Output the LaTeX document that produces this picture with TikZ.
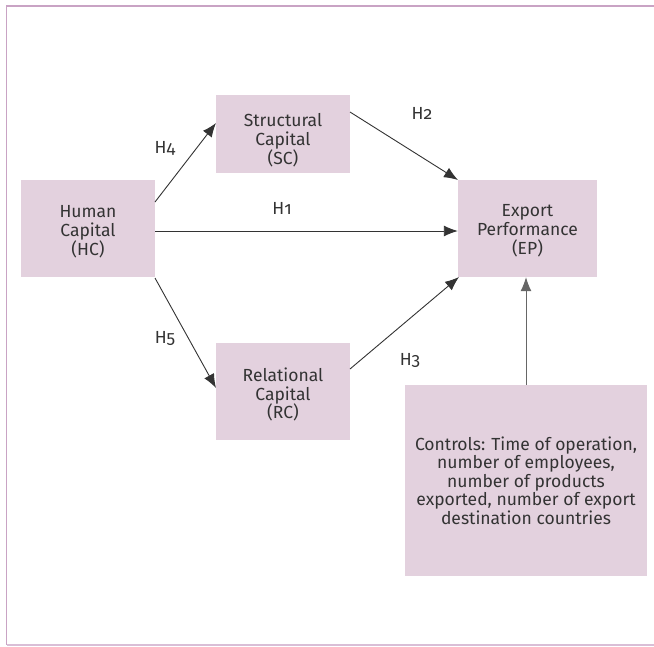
\documentclass[tikz,border=0pt]{standalone}
\usepackage{fontspec}
\setmainfont{Fira Sans}[Numbers=OldStyle]
\usetikzlibrary{arrows.meta}
\definecolor{boxfill}{HTML}{E3D1DE}
\definecolor{framec}{HTML}{C9A3C4}
\definecolor{txt}{HTML}{333333}
\tikzset{
  cbox/.style={fill=boxfill, draw=none, inner sep=0pt},
  boxtxt/.style={align=center, text=txt, inner sep=0pt,
    font=\fontsize{17.5}{18.8}\selectfont},
  conn/.style={draw=txt, line width=0.9pt, -{Latex[length=14pt,width=11pt]}},
  lbl/.style={text=txt, font=\fontsize{17.5}{18.5}\selectfont, inner sep=0pt}
}
\begin{document}
\begin{tikzpicture}[x=1pt,y=-1pt]
\useasboundingbox (0,0) rectangle (654,646);
% frame
\draw[framec, line width=1.5pt] (654,6) -- (6.5,6) -- (6.5,645);
\draw[framec!70, line width=1.2pt] (6.5,645) -- (654,645);
% boxes
\node[cbox, minimum width=134pt, minimum height=97pt,
  label={[boxtxt,yshift=-3pt]center:{Human\\Capital\\(HC)}}] (hc) at (88,228.5) {};
\node[cbox, minimum width=134pt, minimum height=78pt,
  label={[boxtxt,yshift=-6pt]center:{Structural\\Capital\\(SC)}}] (sc) at (283,134) {};
\node[cbox, minimum width=134pt, minimum height=97pt,
  label={[boxtxt,yshift=-3pt]center:{Relational\\Capital\\(RC)}}] (rc) at (283,391.5) {};
\node[cbox, minimum width=139pt, minimum height=97pt,
  label={[boxtxt,yshift=-2pt]center:{Export\\Performance\\(EP)}}] (ep) at (527.5,228.5) {};
\node[cbox, minimum width=242pt, minimum height=191pt,
  label={[boxtxt,font=\fontsize{17.5}{18.5}\selectfont]center:{Controls: Time of operation,\\number of employees,\\number of products\\exported, number of export\\destination countries}}] (ctrl) at (526,480.5) {};
% connectors
\coordinate (hcA) at (155,202);
\coordinate (hcB) at (155,278);
\coordinate (scA) at (216,123);
\coordinate (rcA) at (216,388);
\coordinate (scB) at (350,112);
\coordinate (epA) at (458,180);
\coordinate (rcB) at (350,369);
\coordinate (epB) at (459,277);
\draw[conn] (hcA) -- (scA);
\draw[conn] (hcB) -- (rcA);
\draw[conn] (hc.east |- 0,231) -- (ep.west |- 0,231);
\draw[conn] (scB) -- (epA);
\draw[conn] (rcB) -- (epB);
\draw[conn, draw=gray!80!black] (ctrl.north -| 526,0) -- (ep.south -| 526,0);
% labels
\node[lbl] (h4) at (165,148) {H4};
\node[lbl] (h2) at (422,113) {H2};
\node[lbl] (h1) at (282,208) {H1};
\node[lbl] (h5) at (165,338) {H5};
\node[lbl] (h3) at (410,360) {H3};
\end{tikzpicture}
\end{document}
